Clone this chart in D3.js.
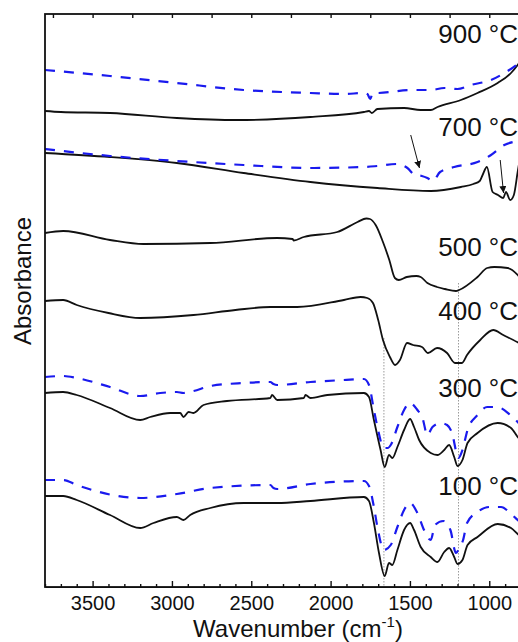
<!DOCTYPE html>
<html>
<head>
<meta charset="utf-8">
<script src="https://cdn.jsdelivr.net/npm/d3@7/dist/d3.min.js"></script>
<style>
  html, body { margin: 0; padding: 0; background: #fff; }
  svg { display: block; font-family: "Liberation Sans", Arial, sans-serif; }
</style>
</head>
<body>
<div class="chart"></div>
<script>
// spectra: [wavenumber (cm-1), absorbance (a.u., stacked)]
const blue900 = [[3800,5.17],[3390,5.11],[2969,5.04],[2548,4.97],[2127,4.94],[1916,4.93],[1790,4.94],
  [1768,4.93],[1750,4.88],[1735,4.94],[1705,4.94],[1495,4.97],[1368,4.97],[1284,4.99],[1200,4.98],
  [1116,5.02],[989,5.07],[905,5.14],[821,5.23],[800,5.26]];
const black900 = [[3800,4.76],[3700,4.75],[3390,4.74],[2969,4.69],[2590,4.67],[2127,4.70],[1790,4.75],
  [1758,4.76],[1740,4.74],[1705,4.78],[1537,4.79],[1432,4.77],[1368,4.77],[1326,4.80],[1179,4.87],
  [1074,4.94],[947,5.04],[863,5.14],[821,5.22],[800,5.27]];

const blue700 = [[3800,4.38],[3390,4.31],[2969,4.26],[2548,4.22],[2127,4.19],[1790,4.20],[1705,4.21],
  [1579,4.23],[1516,4.19],[1469,4.12],[1425,4.11],[1390,4.09],[1355,4.06],[1310,4.15],[1221,4.20],
  [1074,4.25],[989,4.32],[905,4.42],[850,4.45],[800,4.46]];
const black700 = [[3800,4.34],[3390,4.30],[2969,4.24],[2548,4.14],[2127,4.05],[1705,3.99],[1368,3.96],
  [1179,4.00],[1100,4.03],[1060,4.06],[1042,4.12],[1015,4.20],[979,3.95],[945,3.92],[912,3.89],
  [895,3.95],[868,3.87],[845,3.92],[821,4.15],[800,4.35]];

const black500 = [[3800,3.54],[3685,3.56],[3390,3.47],[3180,3.43],[2758,3.44],[2337,3.49],[2240,3.48],
  [2232,3.465],[2169,3.50],[1958,3.55],[1830,3.65],[1775,3.685],[1752,3.68],[1716,3.62],[1670,3.45],
  [1630,3.27],[1595,3.09],[1570,3.07],[1520,3.10],[1460,3.11],[1432,3.10],[1390,3.04],[1330,3.00],
  [1280,2.98],[1210,2.96],[1190,2.97],[1074,3.10],[1013,3.19],[968,3.20],[884,3.19],[821,3.12],[800,3.08]];

const black400 = [[3800,2.86],[3685,2.87],[3600,2.82],[3400,2.74],[3200,2.69],[2864,2.72],[2600,2.77],
  [2379,2.80],[2211,2.80],[1916,2.87],[1811,2.90],[1769,2.89],[1733,2.84],[1700,2.67],[1670,2.47],
  [1626,2.30],[1594,2.22],[1563,2.27],[1518,2.44],[1481,2.42],[1424,2.40],[1386,2.34],[1329,2.39],
  [1266,2.34],[1216,2.24],[1172,2.24],[1140,2.32],[1057,2.47],[975,2.57],[912,2.52],[824,2.45],[800,2.43]];

const blue300 = [[3800,2.10],[3685,2.11],[3600,2.09],[3390,2.00],[3200,1.91],[3074,1.94],[2969,1.95],
  [2927,1.94],[2864,1.96],[2758,2.01],[2548,2.04],[2380,2.05],[2360,2.03],[2337,2.02],[2127,2.05],
  [1916,2.07],[1790,2.08],[1758,2.02],[1727,1.77],[1705,1.60],[1664,1.39],[1640,1.39],[1621,1.42],
  [1579,1.60],[1537,1.77],[1500,1.84],[1453,1.77],[1421,1.69],[1390,1.52],[1358,1.60],[1305,1.64],
  [1266,1.62],[1235,1.54],[1203,1.32],[1195,1.29],[1169,1.37],[1137,1.57],[1074,1.72],[1013,1.80],
  [950,1.80],[868,1.72],[821,1.65],[800,1.61]];
const black300 = [[3800,1.94],[3685,1.95],[3600,1.92],[3390,1.79],[3200,1.67],[3137,1.70],[3011,1.74],
  [2948,1.74],[2927,1.70],[2895,1.75],[2864,1.74],[2801,1.82],[2653,1.86],[2380,1.89],[2369,1.92],
  [2337,1.87],[2169,1.89],[2158,1.92],[2127,1.89],[2021,1.92],[1790,1.94],[1758,1.90],[1727,1.67],
  [1685,1.37],[1659,1.20],[1632,1.32],[1611,1.29],[1579,1.40],[1537,1.57],[1499,1.68],[1474,1.60],
  [1442,1.47],[1369,1.34],[1327,1.32],[1284,1.37],[1253,1.42],[1221,1.30],[1200,1.21],[1169,1.27],
  [1137,1.44],[1074,1.54],[947,1.64],[863,1.59],[821,1.50],[800,1.46]];

const blue100 = [[3800,1.07],[3685,1.07],[3600,1.02],[3200,0.89],[2969,0.93],[2758,0.99],[2380,1.02],
  [2360,0.99],[2337,0.98],[2127,1.03],[1790,1.06],[1758,1.01],[1727,0.80],[1705,0.60],[1664,0.37],
  [1621,0.42],[1579,0.60],[1537,0.77],[1500,0.84],[1453,0.74],[1411,0.57],[1369,0.47],[1342,0.62],
  [1290,0.66],[1245,0.57],[1210,0.34],[1195,0.37],[1165,0.47],[1140,0.64],[1074,0.75],[1000,0.80],
  [926,0.80],[868,0.74],[821,0.67],[800,0.64]];
const black100 = [[3800,0.91],[3685,0.91],[3600,0.87],[3390,0.72],[3200,0.59],[3116,0.64],[2969,0.70],
  [2927,0.67],[2885,0.72],[2758,0.79],[2548,0.84],[2337,0.84],[2127,0.86],[1790,0.90],[1758,0.86],
  [1727,0.64],[1695,0.34],[1659,0.11],[1632,0.24],[1611,0.22],[1579,0.37],[1537,0.57],[1499,0.64],
  [1474,0.57],[1432,0.40],[1369,0.30],[1327,0.25],[1284,0.35],[1253,0.39],[1221,0.30],[1200,0.23],
  [1169,0.27],[1137,0.42],[1074,0.50],[947,0.63],[863,0.59],[821,0.53],[800,0.50]];

// temperature labels and their baseline level
const temps = ['900 °C', '700 °C', '500 °C', '400 °C', '300 °C', '100 °C'];
const tempLevels = [5.44, 4.51, 3.31, 2.67, 1.90, 0.92];

// dotted guide lines [wavenumber, top]
const guides = [[1664, 2.49], [1194, 3.04]];

// arrows [from wavenumber, from absorbance, to wavenumber, to absorbance]
const arrows = [[1495, 4.52, 1440, 4.19], [931, 4.27, 910, 3.94]];

const majorTicks = [3500, 3000, 2500, 2000, 1500, 1000];

(function() {

  const width = 518;
  const height = 642;
  const margin = { top: 14, left: 45, bottom: 55 };
  const plotRight = 521;

  const svg = d3.select('.chart')
    .append('svg')
    .attr('width', width)
    .attr('height', height);

  const x = d3.scaleLinear()
    .domain([3800, 800])
    .range([margin.left, plotRight]);

  const y = d3.scaleLinear()
    .domain([0, 5.73])
    .range([height - margin.bottom, margin.top]);

  const line = d3.line()
    .x((d) => x(d[0]))
    .y((d) => y(d[1]))
    .curve(d3.curveMonotoneX);

  // dotted guides behind the spectra
  svg.selectAll('line.guide')
    .data(guides)
    .enter().append('line')
    .attr('class', 'guide')
    .attr('x1', (d) => x(d[0]))
    .attr('x2', (d) => x(d[0]))
    .attr('y1', (d) => y(d[1]))
    .attr('y2', y(0))
    .attr('stroke', '#9a9a9a')
    .attr('stroke-width', 1)
    .attr('stroke-dasharray', '1.5,1.5');

  const solid = [black900, black700, black500, black400, black300, black100];
  const dashed = [blue900, blue700, blue300, blue100];

  svg.selectAll('path.solid')
    .data(solid)
    .enter().append('path')
    .attr('class', 'solid')
    .attr('d', line)
    .attr('fill', 'none')
    .attr('stroke', '#111')
    .attr('stroke-width', 1.8)
    .attr('stroke-linejoin', 'round');

  svg.selectAll('path.dashed')
    .data(dashed)
    .enter().append('path')
    .attr('class', 'dashed')
    .attr('d', line)
    .attr('fill', 'none')
    .attr('stroke', '#1a1aee')
    .attr('stroke-width', 2.2)
    .attr('stroke-dasharray', '10,9');

  // arrow heads
  svg.append('defs').append('marker')
    .attr('id', 'head')
    .attr('viewBox', '0 0 10 10')
    .attr('refX', 10)
    .attr('refY', 5)
    .attr('markerWidth', 7)
    .attr('markerHeight', 7)
    .attr('markerUnits', 'userSpaceOnUse')
    .attr('orient', 'auto')
    .append('path')
    .attr('d', 'M0,0 L10,5 L0,10 z')
    .attr('fill', '#111');

  svg.selectAll('line.arrow')
    .data(arrows)
    .enter().append('line')
    .attr('class', 'arrow')
    .attr('x1', (d) => x(d[0]))
    .attr('y1', (d) => y(d[1]))
    .attr('x2', (d) => x(d[2]))
    .attr('y2', (d) => y(d[3]))
    .attr('stroke', '#111')
    .attr('stroke-width', 1)
    .attr('marker-end', 'url(#head)');

  // temperature labels
  svg.selectAll('text.temp')
    .data(temps)
    .enter().append('text')
    .attr('class', 'temp')
    .attr('x', 518)
    .attr('y', (d, i) => y(tempLevels[i]))
    .attr('text-anchor', 'end')
    .attr('font-size', 26)
    .attr('fill', '#111')
    .text((d) => d);

  // ****************** axes ***************************

  const minor = d3.range(800, 3801, 100).filter((v) => v % 500 !== 0);

  svg.append('g')
    .attr('transform', `translate(0,${y(0)})`)
    .call(d3.axisBottom(x).tickValues(minor).tickSize(-3).tickFormat(''))
    .call((g) => g.select('.domain').remove());

  const xAxis = svg.append('g')
    .attr('transform', `translate(0,${y(0)})`)
    .call(d3.axisBottom(x).tickValues(majorTicks).tickSizeInner(-6).tickSizeOuter(0).tickPadding(9)
      .tickFormat(d3.format('d')));

  xAxis.selectAll('text')
    .attr('font-size', 20)
    .attr('font-family', '"Liberation Sans", Arial, sans-serif')
    .attr('fill', '#111');

  svg.append('g')
    .attr('transform', `translate(0,${y(5.73)})`)
    .call(d3.axisTop(x).tickValues(d3.range(1000, 3801, 250)).tickSize(-4).tickFormat(''))
    .call((g) => g.select('.domain').remove());

  svg.selectAll('.tick line').attr('stroke', '#111').attr('stroke-width', 1.4);

  // frame
  svg.append('rect')
    .attr('x', margin.left)
    .attr('y', margin.top)
    .attr('width', plotRight - margin.left)
    .attr('height', y(0) - margin.top)
    .attr('fill', 'none')
    .attr('stroke', '#111')
    .attr('stroke-width', 1.8);

  // axis titles
  const xTitle = svg.append('text')
    .attr('x', 298)
    .attr('y', 637)
    .attr('text-anchor', 'middle')
    .attr('font-size', 24)
    .attr('fill', '#111')
    .text('Wavenumber (cm');
  xTitle.append('tspan')
    .attr('font-size', 15)
    .attr('dy', -10)
    .text('-1');
  xTitle.append('tspan')
    .attr('dy', 10)
    .text(')');

  svg.append('text')
    .attr('transform', 'translate(31,281) rotate(-90)')
    .attr('text-anchor', 'middle')
    .attr('font-size', 24)
    .attr('fill', '#111')
    .text('Absorbance');

}());
</script>
</body>
</html>
